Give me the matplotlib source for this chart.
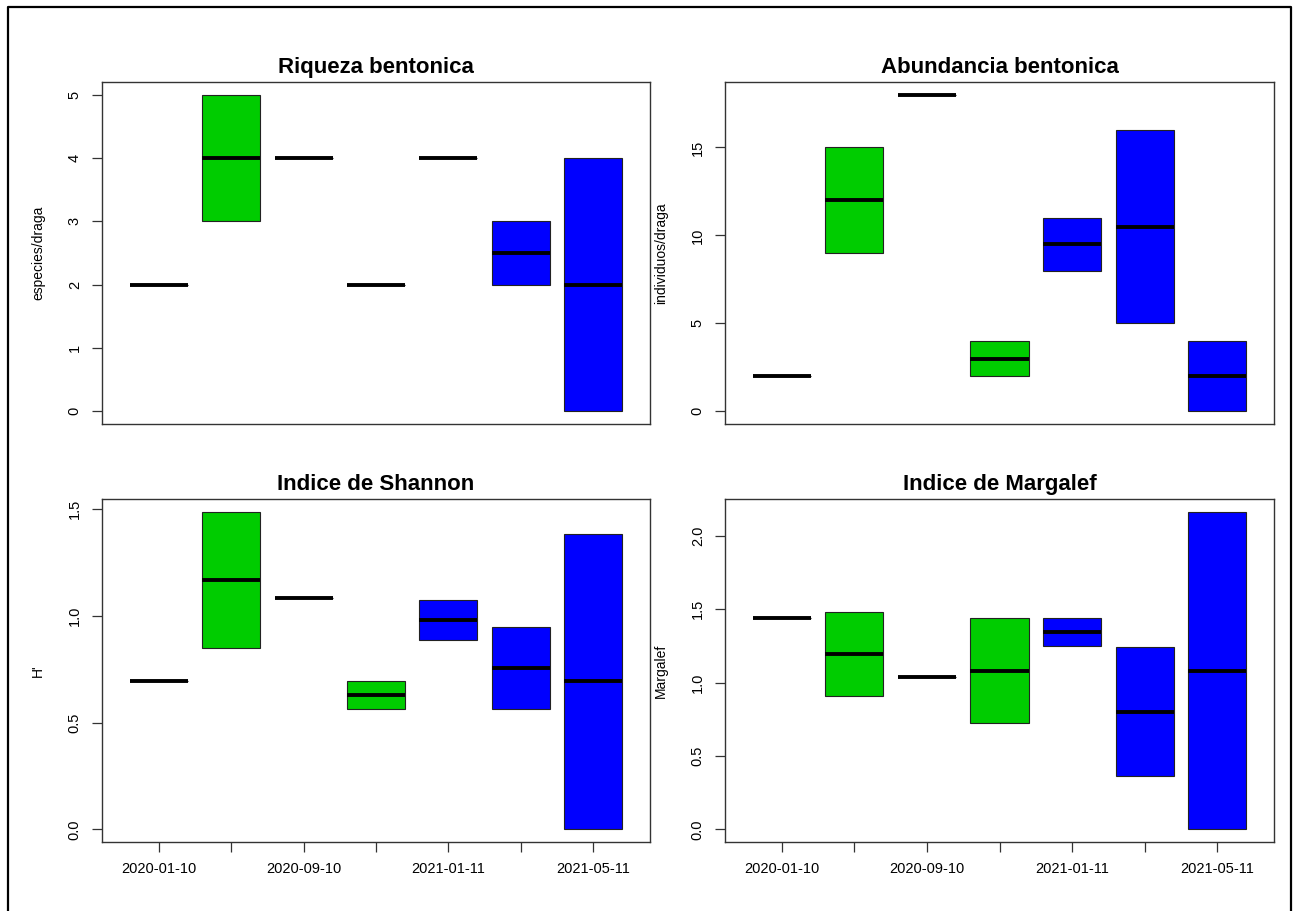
import numpy as np
import matplotlib
matplotlib.use("Agg")
import matplotlib.pyplot as plt
from matplotlib.lines import Line2D

plt.rcParams['font.family'] = ['Liberation Sans', 'DejaVu Sans']

# fechas de muestreo (solo se ven las etiquetas 1, 3, 5 y 7)
tick_labels = ['2020-01-10', '', '2020-09-10', '', '2021-01-11', '', '2021-05-11']
box_colors = ['#00CC00', '#00CC00', '#00CC00', '#00CC00', '#0000FF', '#0000FF', '#0000FF']

# min, mediana, max por fecha
riq_lo = [2, 3, 4, 2, 4, 2, 0]
riq_med = [2, 4, 4, 2, 4, 2.5, 2]
riq_hi = [2, 5, 4, 2, 4, 3, 4]

abu_lo = [2, 9, 18, 2, 8, 5, 0]
abu_med = [2, 12, 18, 3, 9.5, 10.5, 2]
abu_hi = [2, 15, 18, 4, 11, 16, 4]

sha_lo = [0.693, 0.849, 1.086, 0.562, 0.887, 0.562, 0.0]
sha_med = [0.693, 1.169, 1.086, 0.628, 0.981, 0.756, 0.693]
sha_hi = [0.693, 1.488, 1.086, 0.693, 1.076, 0.949, 1.384]

mar_lo = [1.443, 0.911, 1.039, 0.721, 1.248, 0.361, 0.0]
mar_med = [1.443, 1.194, 1.039, 1.082, 1.344, 0.800, 1.082]
mar_hi = [1.443, 1.478, 1.039, 1.443, 1.443, 1.241, 2.164]

panels = [
    ("Riqueza bentonica", "especies/draga", riq_lo, riq_med, riq_hi, [0, 1, 2, 3, 4, 5]),
    ("Abundancia bentonica", "individuos/draga", abu_lo, abu_med, abu_hi, [0, 5, 10, 15]),
    ("Indice de Shannon", "H'", sha_lo, sha_med, sha_hi, [0.0, 0.5, 1.0, 1.5]),
    ("Indice de Margalef", "Margalef", mar_lo, mar_med, mar_hi, [0.0, 0.5, 1.0, 1.5, 2.0]),
]

W, H = 1299, 911
fig = plt.figure(figsize=(W / 100, H / 100), dpi=100)

# posiciones de los ejes en pixeles (izq, der, arriba, abajo)
boxes_px = [(102, 650, 82, 424), (725, 1274, 82, 424),
            (102, 650, 499, 842), (725, 1274, 499, 842)]

for (title, ylab, lo, med, hi, yt), (x0, x1, y0, y1) in zip(panels, boxes_px):
    ax = fig.add_axes([x0 / W, 1 - y1 / H, (x1 - x0) / W, (y1 - y0) / H])
    stats = []
    for a, m, b in zip(lo, med, hi):
        stats.append(dict(med=m, q1=a, q3=b, whislo=a, whishi=b))
    n = len(stats)
    pos = np.arange(1, n + 1)
    bp = ax.bxp(stats, positions=pos, widths=0.8, patch_artist=True,
                showfliers=False, showcaps=False,
                boxprops=dict(edgecolor='#222222', linewidth=0.8),
                medianprops=dict(color='black', linewidth=2.8, solid_capstyle='butt'),
                whiskerprops=dict(color='#222222', linewidth=0.8))
    for patch, c in zip(bp['boxes'], box_colors):
        patch.set_facecolor(c)

    ax.set_xlim(0.5 - 0.04 * n, n + 0.5 + 0.04 * n)
    ymin, ymax = min(lo), max(hi)
    r = ymax - ymin
    ax.set_ylim(ymin - 0.04 * r, ymax + 0.04 * r)

    if y1 > 600:
        ax.set_xticks(pos)
        ax.set_xticklabels(tick_labels, fontsize=10.5)
    else:
        ax.set_xticks([])
    ax.set_yticks(yt)
    ax.tick_params(axis='both', direction='out', length=7.5, width=0.9, color='#333333')
    ax.tick_params(axis='x', pad=7)
    ax.tick_params(axis='y', pad=7, labelsize=10.5, labelrotation=90)
    for lab in ax.get_yticklabels():
        lab.set_va('center')

    for s in ax.spines.values():
        s.set_linewidth(1.0)
        s.set_color('#333333')

    ax.set_title(title, fontsize=16, fontweight='bold', pad=6.5)
    ax.set_ylabel(ylab, fontsize=10)
    ax.yaxis.set_label_coords(-0.104, 0.5)

# marco exterior (sin borde inferior)
xl, xr, yt_ = 8 / W, 1291 / W, 1 - 7 / H
fig.add_artist(Line2D([xl, xl, xr, xr], [0, yt_, yt_, 0], transform=fig.transFigure,
                      color='black', linewidth=1.6))

fig.savefig("out.png", dpi=100)
